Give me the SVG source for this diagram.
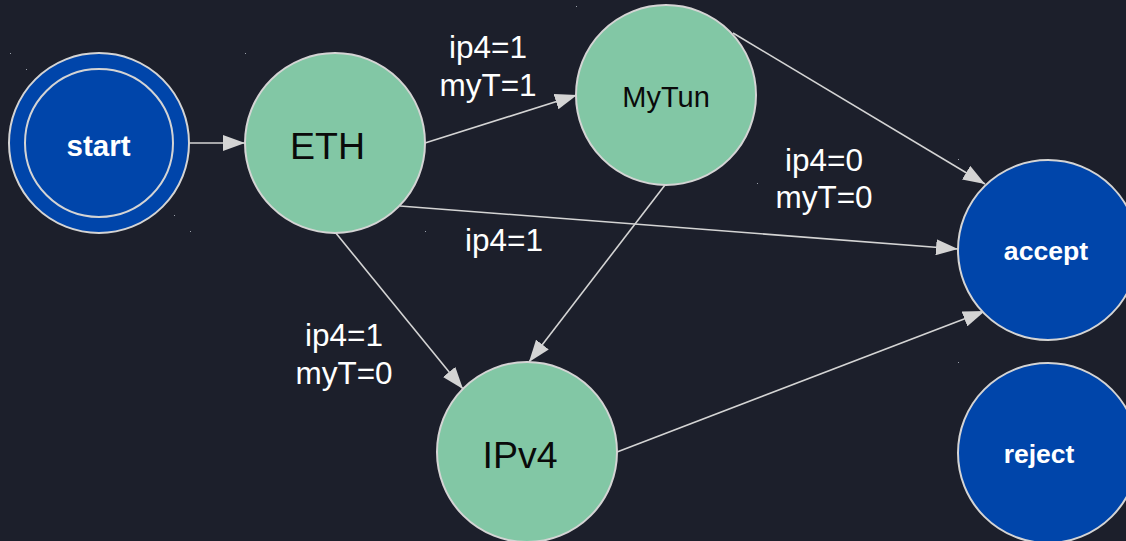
<svg xmlns="http://www.w3.org/2000/svg" width="1126" height="541" viewBox="0 0 1126 541">
  <style>
    .state { stroke: #d4d4d4; stroke-width: 2; }
    .blue { fill: #0045aa; }
    .green { fill: #82c7a5; }
    .edge { stroke: #d4d4d4; stroke-width: 1.6; fill: none; marker-end: url(#arrow); }
    .lbl { font-family: "Liberation Sans", Arial, sans-serif; font-size: 31.5px; fill: #ffffff; text-anchor: middle; }
    .name-w { font-family: "Liberation Sans", Arial, sans-serif; font-weight: bold; fill: #ffffff; text-anchor: middle; dominant-baseline: central; }
    .name-k { font-family: "Liberation Sans", Arial, sans-serif; fill: #0a0a0a; text-anchor: middle; dominant-baseline: central; }
    .dot { fill: #9aa0aa; }
  </style>
  <defs>
    <marker id="arrow" viewBox="0 0 22 16" refX="22" refY="8" markerWidth="22" markerHeight="16" markerUnits="userSpaceOnUse" orient="auto">
      <path d="M0,0 L22,8 L0,16 Z" fill="#d4d4d4"/>
    </marker>
  </defs>

  <rect width="1126" height="541" fill="#1c1f2b"/>

  <!-- faint background specks -->
  <g id="specks">
    <rect class="dot" x="10" y="53" width="1" height="1"/>
    <rect class="dot" x="26" y="69" width="1" height="1"/>
    <rect class="dot" x="245" y="53" width="1" height="1"/>
    <rect class="dot" x="174" y="215" width="1" height="1"/>
    <rect class="dot" x="190" y="231" width="1" height="1"/>
    <rect class="dot" x="576" y="6" width="1" height="1"/>
    <rect class="dot" x="425" y="231" width="1" height="1"/>
    <rect class="dot" x="958" y="159" width="1" height="1"/>
    <rect class="dot" x="958" y="362" width="1" height="1"/>
    <rect class="dot" x="757" y="183" width="1" height="1"/>
  </g>

  <g id="connectors">
    <line class="edge" x1="190" y1="143" x2="245" y2="143"/>
    <line class="edge" x1="425" y1="143" x2="577" y2="95"/>
    <line class="edge" x1="733" y1="33" x2="985" y2="184"/>
    <line class="edge" x1="400" y1="206" x2="958" y2="249"/>
    <line class="edge" x1="335" y1="232" x2="463" y2="389"/>
    <line class="edge" x1="665" y1="185" x2="529" y2="362"/>
    <line class="edge" x1="617" y1="452" x2="985" y2="311"/>
  </g>

  <g id="edge-labels">
    <text class="lbl" x="488" y="58">ip4=1</text>
    <text class="lbl" x="488" y="96">myT=1</text>
    <text class="lbl" x="824" y="171">ip4=0</text>
    <text class="lbl" x="824" y="208">myT=0</text>
    <text class="lbl" x="504" y="251">ip4=1</text>
    <text class="lbl" x="344" y="346">ip4=1</text>
    <text class="lbl" x="344" y="384">myT=0</text>
  </g>

  <g id="start">
    <circle class="state blue" cx="99" cy="143" r="90"/>
    <circle class="state blue" cx="99" cy="143" r="74"/>
    <text class="name-w" x="98.5" y="145" font-size="29.5">start</text>
  </g>

  <g id="ETH">
    <circle class="state green" cx="335" cy="143" r="90"/>
    <text class="name-k" x="327.5" y="146" font-size="37.5">ETH</text>
  </g>

  <g id="MyTun">
    <circle class="state green" cx="666" cy="95" r="90"/>
    <text class="name-k" x="666" y="97" font-size="29">MyTun</text>
  </g>

  <g id="IPv4">
    <circle class="state green" cx="527" cy="452" r="90"/>
    <text class="name-k" x="520" y="455" font-size="37.5">IPv4</text>
  </g>

  <g id="accept">
    <circle class="state blue" cx="1048" cy="250" r="90"/>
    <text class="name-w" x="1046" y="251" font-size="26.6">accept</text>
  </g>

  <g id="reject">
    <circle class="state blue" cx="1048" cy="453" r="90"/>
    <text class="name-w" x="1039" y="454" font-size="26.5">reject</text>
  </g>
</svg>
